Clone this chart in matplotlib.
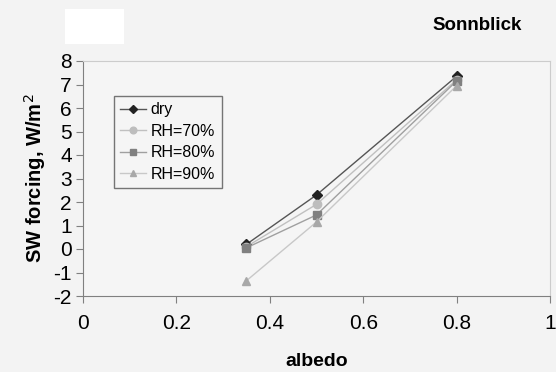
import numpy as np
import matplotlib.pyplot as plt
import matplotlib.patches as patches

# data
albedo = [0.35, 0.5, 0.8]
dry = [0.2, 2.3, 7.35]
rh70 = [0.1, 1.9, 7.2]
rh80 = [0.05, 1.45, 7.15]
rh90 = [-1.35, 1.15, 6.95]
labels = ['dry', 'RH=70%', 'RH=80%', 'RH=90%']

plt.rcParams['font.family'] = ['Liberation Sans', 'DejaVu Sans']
plt.rcParams['axes.unicode_minus'] = False

fig = plt.figure(figsize=(5.56, 3.72), dpi=100, facecolor='#f3f3f3')
ax = fig.add_axes([83/556, 1 - 296/372, 467/556, 235/372])
ax.set_facecolor('#f5f5f5')

# white box top-left
fig.patches.append(patches.Rectangle((65/556, 1 - 44/372), 59/556, 35/372,
                                     transform=fig.transFigure, facecolor='white',
                                     edgecolor='none'))

ax.plot(albedo, dry, color='#555555', lw=1, marker='D', ms=5, mfc='#222222', mec='#222222', label=labels[0])
ax.plot(albedo, rh70, color='#c0c0c0', lw=1, marker='o', ms=6, mfc='#bdbdbd', mec='#bdbdbd', label=labels[1])
ax.plot(albedo, rh80, color='#a0a0a0', lw=1, marker='s', ms=6, mfc='#808080', mec='#808080', label=labels[2])
ax.plot(albedo, rh90, color='#c8c8c8', lw=1, marker='^', ms=6, mfc='#a8a8a8', mec='#a8a8a8', label=labels[3])

ax.set_xlim(0, 1)
ax.set_ylim(-2, 8)
ax.set_xticks([0, 0.2, 0.4, 0.6, 0.8, 1])
ax.set_xticklabels(['0', '0.2', '0.4', '0.6', '0.8', '1'])
ax.set_yticks(range(-2, 9))
ax.tick_params(axis='x', labelsize=15, direction='out', length=5, color='#808080', pad=8)
ax.tick_params(axis='y', labelsize=15, direction='out', length=5, color='#808080', pad=3)

for s in ['left', 'bottom']:
    ax.spines[s].set_color('#808080')
for s in ['top', 'right']:
    ax.spines[s].set_color('#cccccc')

ax.set_xlabel('albedo', fontsize=14, fontweight='bold', labelpad=14)
ax.set_ylabel('SW forcing, W/m$^2$', fontsize=14.5, fontweight='bold', labelpad=4)

fig.text(477/556, 1 - 25/372, 'Sonnblick', fontsize=13.5, fontweight='bold', ha='center', va='center')

leg = ax.legend(loc='upper left', bbox_to_anchor=((114 - 83)/467, (296 - 96)/235),
                fontsize=11.5, frameon=True, fancybox=False, borderaxespad=0,
                handlelength=1.6, handletextpad=0.3, labelspacing=0.4, borderpad=0.4,
                markerscale=0.8)
leg.get_frame().set_edgecolor('#555555')
leg.get_frame().set_facecolor('#f5f5f5')
leg.get_frame().set_linewidth(1)

fig.savefig('out.png', dpi=100, facecolor=fig.get_facecolor())
